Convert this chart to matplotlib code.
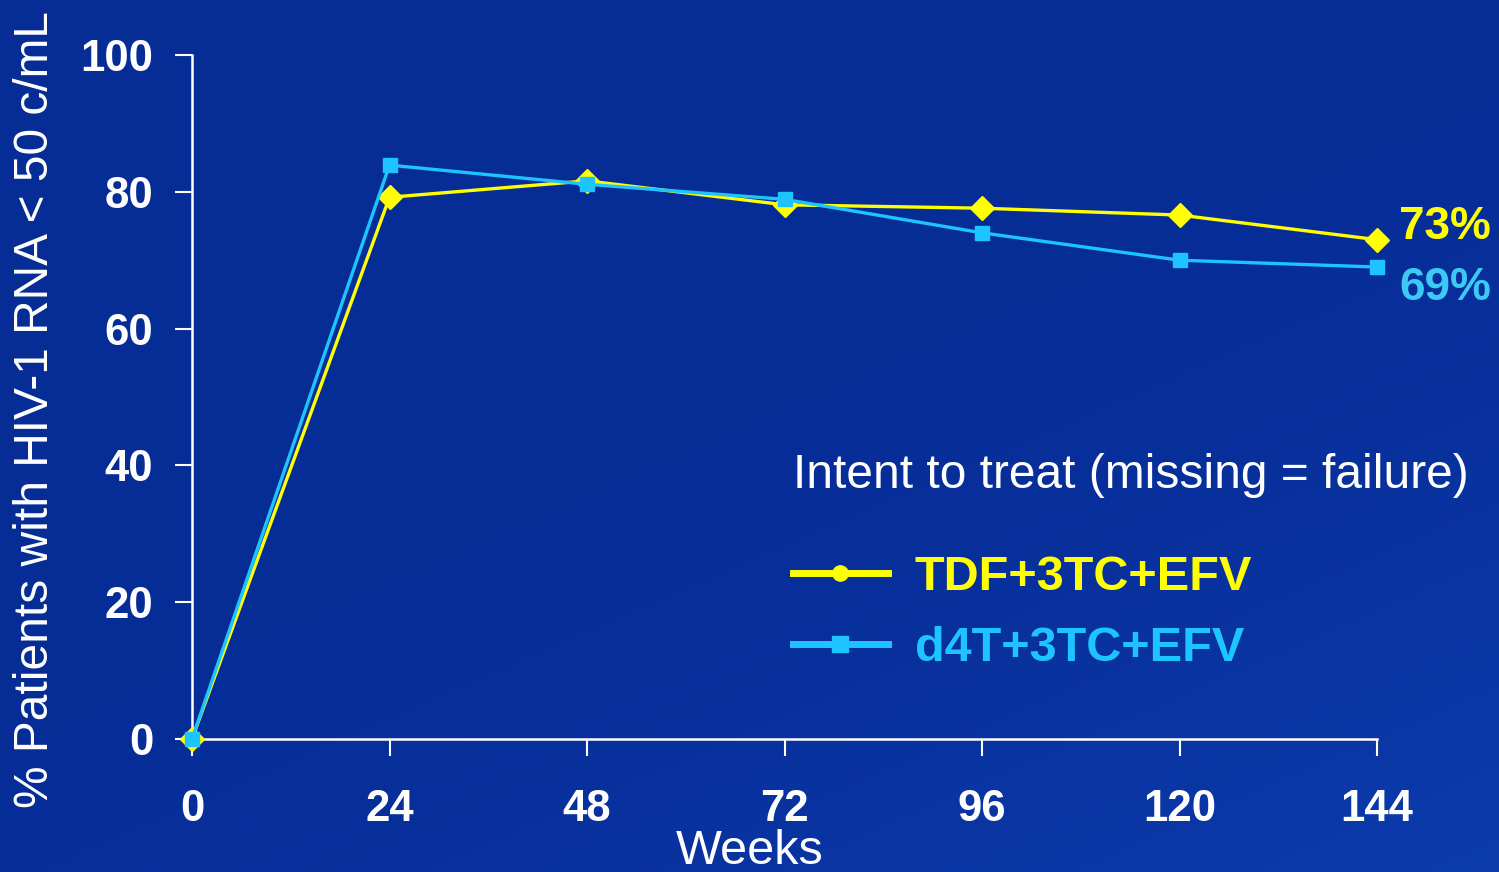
import numpy as np
import matplotlib.pyplot as plt
from matplotlib.lines import Line2D

weeks = [0, 24, 48, 72, 96, 120, 144]
tdf_3tc_efv = [0, 79.2, 81.6, 78.1, 77.6, 76.6, 73]
d4t_3tc_efv = [0, 83.9, 81.1, 78.9, 74.0, 70.0, 69]
yticks = [0, 20, 40, 60, 80, 100]

bg = '#07319c'
yellow = '#ffff00'
cyan = '#1ec4ff'
cyan_text = '#3ccaf5'

plt.rcParams['font.family'] = ['Liberation Sans', 'DejaVu Sans']

fig = plt.figure(figsize=(14.99, 8.72), dpi=100, facecolor=bg)

# slide backdrop: dark blue, a little lighter toward the lower right
back = fig.add_axes([0, 0, 1, 1], zorder=-1)
back.axis('off')
gy, gx = np.mgrid[0:1:200j, 0:1:300j]
shade = np.clip((gx * 0.6 + gy * 0.8) - 0.6, 0, 1) ** 1.5
base = np.array([6, 44, 150]) / 255
light = np.array([16, 66, 182]) / 255
rgb = base + shade[..., None] * (light - base)
back.imshow(rgb, extent=[0, 1, 0, 1], origin='upper', aspect='auto')

ax = fig.add_axes([192 / 1499, 1 - 739 / 872, 1185 / 1499, 684 / 872])
ax.patch.set_alpha(0)

ax.plot(weeks, tdf_3tc_efv, color=yellow, lw=2.4, marker='D', ms=12,
        clip_on=False, zorder=3)
ax.plot(weeks, d4t_3tc_efv, color=cyan, lw=2.4, marker='s', ms=10.5,
        clip_on=False, zorder=4)

ax.set_xlim(0, 144)
ax.set_ylim(0, 100)
ax.set_xticks(weeks)
ax.set_yticks(yticks)
for s in ['top', 'right']:
    ax.spines[s].set_visible(False)
for s in ['left', 'bottom']:
    ax.spines[s].set_color('white')
    ax.spines[s].set_linewidth(1.8)
ax.tick_params(colors='white', width=1.5, length=12)
ax.tick_params(axis='x', pad=24)
ax.tick_params(axis='y', pad=16)
for lab in ax.get_xticklabels() + ax.get_yticklabels():
    lab.set_fontsize(31.5)
    lab.set_fontweight('bold')
    lab.set_color('white')

fig.text(36 / 1499, 1 - 410 / 872, '% Patients with HIV-1 RNA < 50 c/mL',
         rotation=90, ha='center', va='center', color='white', fontsize=34.5)
fig.text(750 / 1499, 1 - 851 / 872, 'Weeks', ha='center', va='center',
         color='white', fontsize=35)

ax.text(0.507, 0.385, 'Intent to treat (missing = failure)', transform=ax.transAxes,
        ha='left', va='center', color='white', fontsize=34.5)

ax.annotate(f'{tdf_3tc_efv[-1]:.0f}%', (weeks[-1], tdf_3tc_efv[-1]),
            xytext=(16, 9), textcoords='offset points', ha='left', va='center',
            color=yellow, fontsize=33, fontweight='bold', annotation_clip=False)
ax.annotate(f'{d4t_3tc_efv[-1]:.0f}%', (weeks[-1], d4t_3tc_efv[-1]),
            xytext=(16, -15), textcoords='offset points', ha='left', va='center',
            color=cyan_text, fontsize=33, fontweight='bold', annotation_clip=False)

handles = [Line2D([], [], color=yellow, lw=5, marker='o', ms=11),
           Line2D([], [], color=cyan, lw=5, marker='s', ms=11)]
leg = ax.legend(handles, ['TDF+3TC+EFV', 'd4T+3TC+EFV'], loc='upper left',
                bbox_to_anchor=(793 / 1499, 1 - 555 / 872), bbox_transform=fig.transFigure,
                frameon=False, borderpad=0, borderaxespad=0, handlelength=1.95,
                handletextpad=0.55, labelspacing=0.54,
                prop={'size': 35, 'weight': 'bold'}, labelcolor=[yellow, cyan])

fig.savefig('out.png', dpi=100, facecolor=bg)
